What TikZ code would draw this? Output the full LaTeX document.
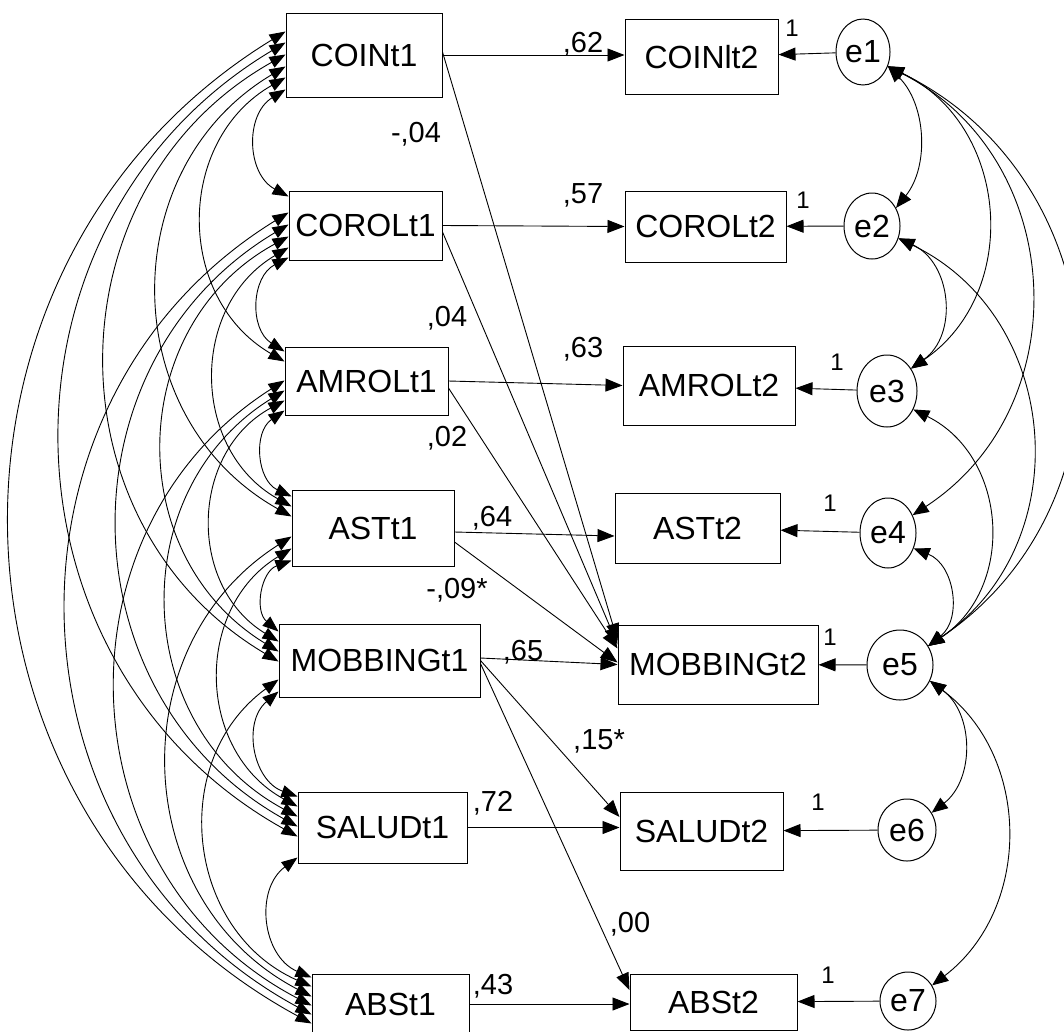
\documentclass[tikz,border=0pt]{standalone}
\usepackage{fontspec}
\setmainfont{Liberation Sans}
\usetikzlibrary{arrows.meta,shapes.geometric,calc}
\begin{document}
\begin{tikzpicture}[x=1pt,y=-1pt, line width=0.9pt,
  vbox/.style={draw, rectangle, inner sep=0pt, line width=1pt, fill=white, font=\fontsize{32}{36}\selectfont},
  err/.style={draw, ellipse, inner sep=0pt, line width=1pt, fill=white, font=\fontsize{32}{36}\selectfont},
  coef/.style={font=\fontsize{29}{31}\selectfont, inner sep=0pt, text depth=0pt},
  one/.style={font=\fontsize{24}{26}\selectfont, inner sep=0pt, text depth=0pt},
  reg/.style={-{Triangle[length=17pt,width=13pt]}},
  lcov/.style={{Triangle[length=16pt,width=12pt]}-{Triangle[length=16pt,width=12pt]}, bend right=60, looseness=1.14},
  rcov/.style n args={2}{{Triangle[length=16pt,width=13pt]}-{Triangle[length=16pt,width=13pt]}, bend left=#1, looseness=#2}
]
\useasboundingbox (0,0) rectangle (1064,1031);
\clip (0,0) rectangle (1064,1031);

% left column
\node[vbox, minimum width=156pt, minimum height=84pt] (coin1) at (364,55) {COINt1};
\node[vbox, minimum width=153pt, minimum height=69pt] (corol1) at (365.5,225.5) {COROLt1};
\node[vbox, minimum width=163pt, minimum height=68pt] (amrol1) at (366.5,381) {AMROLt1};
\node[vbox, minimum width=162pt, minimum height=76pt] (ast1) at (373,528) {ASTt1};
\node[vbox, minimum width=201pt, minimum height=73pt] (mob1) at (379.5,660.5) {MOBBINGt1};
\node[vbox, minimum width=169pt, minimum height=71pt] (salud1) at (382.5,827.5) {SALUDt1};
\node[vbox, minimum width=157pt, minimum height=60pt] (abs1) at (390.5,1004) {ABSt1};

% right column
\node[vbox, minimum width=153pt, minimum height=75pt] (coin2) at (701.5,57) {COINlt2};
\node[vbox, minimum width=161pt, minimum height=71pt] (corol2) at (705.5,226.5) {COROLt2};
\node[vbox, minimum width=172pt, minimum height=79pt] (amrol2) at (709,385.5) {AMROLt2};
\node[vbox, minimum width=165pt, minimum height=70pt] (ast2) at (697.5,528) {ASTt2};
\node[vbox, minimum width=200pt, minimum height=79pt] (mob2) at (718,664.5) {MOBBINGt2};
\node[vbox, minimum width=163pt, minimum height=78pt] (salud2) at (701.5,831) {SALUDt2};
\node[vbox, minimum width=167pt, minimum height=56pt] (abs2) at (713.5,1002) {ABSt2};

% errors
\node[err, minimum width=54pt, minimum height=66pt] (e1) at (863,52) {e1};
\node[err, minimum width=56pt, minimum height=66pt] (e2) at (872,226) {e2};
\node[err, minimum width=60pt, minimum height=72pt] (e3) at (887,391) {e3};
\node[err, minimum width=56pt, minimum height=70pt] (e4) at (888,533) {e4};
\node[err, minimum width=66pt, minimum height=70pt] (e5) at (900,665) {e5};
\node[err, minimum width=58pt, minimum height=62pt] (e6) at (907,830) {e6};
\node[err, minimum width=56pt, minimum height=58pt] (e7) at (908,1001) {e7};

% regression paths
\draw[reg] (coin1.east) -- (coin1.east -| coin2.west);
\draw[reg] (corol1.east) -- (corol2.west);
\draw[reg] (amrol1.east) -- (amrol2.west);
\draw[reg] ($(ast1.east)+(0,4)$) -- ($(ast2.west)+(0,8)$);
\draw[reg] ($(mob1.east)+(0,-2.5)$) -- (mob2.west);
\draw[reg] (salud1.east) -- (salud1.east -| salud2.west);
\draw[reg] (abs1.east) -- (abs1.east -| abs2.west);

\draw[reg] ($(coin1.east)+(0,-3)$) -- ($(mob2.west)+(0,-24)$);
\draw[reg] ($(corol1.east)+(0,6.5)$) -- ($(mob2.west)+(0,-20)$);
\draw[reg] ($(amrol1.east)+(0,7)$) -- ($(mob2.west)+(0,-16)$);
\draw[reg] ($(ast1.east)+(0,14)$) -- ($(mob2.west)+(0,-2)$);
\draw[reg] (mob1.east) -- ($(salud2.west)+(0,-14)$);
\draw[reg] ($(mob1.east)+(0,3)$) -- ($(abs2.west)+(0,-12)$);

% error paths
\foreach \e/\b in {e1/coin2, e2/corol2, e3/amrol2, e4/ast2, e5/mob2, e6/salud2, e7/abs2}
  \draw[reg] (\e) -- (\b);

% left covariances
\foreach \a/\da/\b/\db in {
  coin1/77/corol1/6, coin1/65/amrol1/15, coin1/54/ast1/27, coin1/42/mob1/38,
  coin1/30/salud1/45, coin1/19/abs1/50,
  corol1/67/amrol1/5, corol1/57/ast1/17, corol1/46/mob1/28, corol1/34/salud1/35,
  corol1/22/abs1/41,
  amrol1/64/ast1/7, amrol1/54/mob1/18, amrol1/44/salud1/25, amrol1/34/abs1/32,
  ast1/71/mob1/8, ast1/59/salud1/15, ast1/47/abs1/23,
  mob1/68/salud1/5, mob1/56/abs1/13,
  salud1/66/abs1/4}
  \draw[lcov] ($(\a.north west)+(0,\da)$) to ($(\b.north west)+(0,\db)$);

% right covariances
\draw[rcov={42}{0.97}] (e1.-30) to (e2.37);
\draw[rcov={60}{1.14}] (e1.-30) to (e3.43);
\draw[rcov={60}{1.14}] (e1.-30) to (e4.36);
\draw[rcov={60}{1.14}] (e1.-30) to (e5.34);
\draw[rcov={60}{1.14}] (e2.-25) to (e3.43);
\draw[rcov={60}{1.14}] (e2.-25) to (e5.34);
\draw[rcov={60}{1.14}] (e3.-35) to (e5.34);
\draw[rcov={60}{1.14}] (e4.-31) to (e5.34);
\draw[rcov={53}{1.06}] (e5.-28) to (e6.35);
\draw[rcov={53}{1.06}] (e5.-28) to (e7.33);

% coefficient labels
\node[coef] (c1) at (583,42) {,62};
\node[coef] (c2) at (416,132) {-,04};
\node[coef] (c3) at (583,194) {,57};
\node[coef] (c4) at (447,316) {,04};
\node[coef] (c5) at (583,347) {,63};
\node[coef] (c6) at (447,436) {,02};
\node[coef] (c7) at (492,516) {,64};
\node[coef] (c8) at (457,588) {-,09*};
\node[coef] (c9) at (523,650) {,65};
\node[coef] (c10) at (599,740) {,15*};
\node[coef] (c11) at (493,801) {,72};
\node[coef] (c12) at (630,922) {,00};
\node[coef] (c13) at (493,984) {,43};

% unit loadings
\node[one] (o1) at (792,28) {1};
\node[one] (o2) at (803,200) {1};
\node[one] (o3) at (837,362) {1};
\node[one] (o4) at (830,503) {1};
\node[one] (o5) at (830,637) {1};
\node[one] (o6) at (818,802) {1};
\node[one] (o7) at (828,975) {1};
\end{tikzpicture}
\end{document}
